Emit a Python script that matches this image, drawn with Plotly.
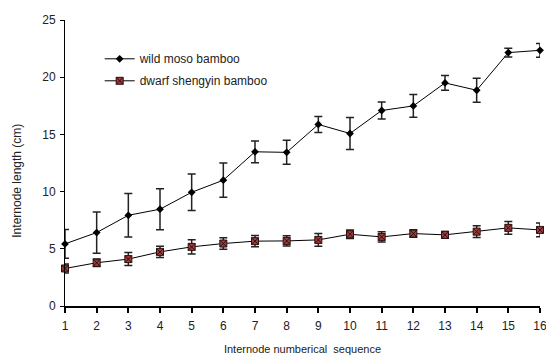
import plotly.graph_objects as go

internodes = list(range(1, 17))
wild_moso = [5.43, 6.42, 7.93, 8.46, 9.94, 11.0, 13.48, 13.43, 15.87, 15.08, 17.09, 17.49, 19.5, 18.86, 22.15, 22.35]
wild_err = [1.25, 1.8, 1.9, 1.8, 1.6, 1.5, 0.95, 1.05, 0.7, 1.4, 0.75, 1.0, 0.65, 1.05, 0.38, 0.6]
dwarf = [3.28, 3.78, 4.1, 4.73, 5.17, 5.46, 5.67, 5.69, 5.78, 6.27, 6.04, 6.33, 6.22, 6.5, 6.83, 6.65]
dwarf_err = [0.4, 0.33, 0.57, 0.5, 0.62, 0.5, 0.5, 0.45, 0.55, 0.38, 0.44, 0.33, 0.3, 0.52, 0.55, 0.6]
y_ticks = [0, 5, 10, 15, 20, 25]

font = "Liberation Sans, Arial, sans-serif"

fig = go.Figure()
fig.add_trace(go.Scatter(
    x=internodes, y=wild_moso, name="wild moso bamboo", mode="lines+markers",
    legendgroup="a",
    line=dict(color="black", width=1),
    marker=dict(symbol="diamond", size=6, color="black"),
    error_y=dict(type="data", array=wild_err, visible=True, color="#222", thickness=1.5, width=4),
    cliponaxis=False,
))
fig.add_trace(go.Scatter(
    x=internodes, y=dwarf, name="dwarf shengyin bamboo", mode="lines+markers",
    legendgroup="b",
    line=dict(color="black", width=1),
    marker=dict(symbol="square-x", size=7, color="#a33c3c", line=dict(color="#2a1010", width=1)),
    error_y=dict(type="data", array=dwarf_err, visible=True, color="#222", thickness=1.5, width=4),
    cliponaxis=False,
))

fig.update_layout(
    width=546, height=358,
    margin=dict(l=65, r=6, t=20, b=52),
    paper_bgcolor="white", plot_bgcolor="white",
    font=dict(family=font, size=12, color="#222"),
    showlegend=True,
    legend=dict(x=0.073, y=0.915, xanchor="left", yanchor="top",
                bgcolor="rgba(0,0,0,0)", font=dict(size=12, color="#222"),
                itemwidth=30, tracegroupgap=3, traceorder="grouped"),
    annotations=[dict(text="Internode length (cm)", xref="paper", yref="paper",
                      x=-0.1011, y=0.438, xanchor="center", yanchor="middle",
                      textangle=-90, showarrow=False, font=dict(size=12, color="#222"))],
)
fig.update_xaxes(
    range=[1, 16], tickvals=internodes, ticktext=[str(v) for v in internodes],
    showgrid=False, zeroline=False, showline=True, linecolor="black", linewidth=1.5,
    ticks="outside", ticklen=5, tickwidth=1.5, tickcolor="black",
    tickfont=dict(size=12), automargin=False, ticklabeloverflow="allow",
    ticklabelstandoff=3,
    title=dict(text="Internode numberical  sequence", font=dict(size=11), standoff=13),
)
fig.update_yaxes(
    range=[0, 25], tickvals=y_ticks,
    showgrid=False, zeroline=False, showline=True, linecolor="black", linewidth=1,
    ticks="outside", ticklen=4, tickwidth=1, tickcolor="black",
    tickfont=dict(size=12), automargin=False, ticklabelstandoff=2,
)
fig.write_html("out.html", config={"displayModeBar": False},
               post_script="document.body.style.margin='0';")
